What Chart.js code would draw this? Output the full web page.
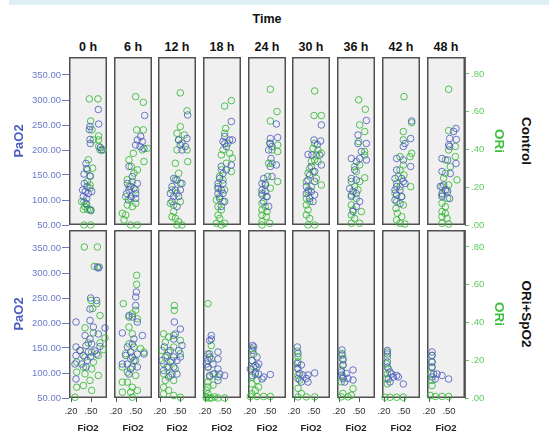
<!DOCTYPE html>
<html>
<head>
<meta charset="utf-8">
<script src="https://cdn.jsdelivr.net/npm/chart.js@4"></script>
<style>
  body { margin: 0; overflow: hidden; background: #fff; font-family: 'Liberation Sans', Arial, sans-serif; }
  #wrap { position: relative; width: 549px; height: 432px; overflow: hidden; }
  #wrap canvas { position: absolute; }
  #band { position: absolute; left: 9px; top: 0; width: 540px; height: 5px; background: #e0eef5; }
  .lbl { position: absolute; transform: translate(-50%, -50%); white-space: nowrap; font-weight: bold; color: #111; }
  .rot { transform: translate(-50%, -50%) rotate(90deg); }
</style>
</head>
<body>
<div id="wrap"><div id="band"></div></div>
<script>
const timeLabels = ['0 h', '6 h', '12 h', '18 h', '24 h', '30 h', '36 h', '42 h', '48 h'];
const groupLabels = ['Control', 'ORi+SpO2'];
const fio2Ticks = [0.2, 0.5];
const pao2Ticks = [50, 100, 150, 200, 250, 300, 350];
const oriTicks = [0, 0.2, 0.4, 0.6, 0.8];

// [FiO2, PaO2] per time point, Control
const controlPaO2 = [
  [[.61,281],[.475,241],[.485,247],[.49,213],[.485,221],[.615,252],[.66,200],[.64,205],[.395,152],[.425,173],[.435,163],[.485,148],[.4,133],[.44,127],[.375,120],[.415,117],[.46,113],[.385,107],[.435,103],[.51,117],[.425,93],[.495,80]],
  [[.63,269],[.52,220],[.57,227],[.595,217],[.495,210],[.56,207],[.62,203],[.395,167],[.445,147],[.37,133],[.42,127],[.395,120],[.47,123],[.36,113],[.43,107],[.495,113],[.52,133],[.385,100],[.495,103]],
  [[.615,270],[.605,223],[.505,210],[.53,200],[.58,207],[.48,220],[.405,143],[.455,140],[.38,127],[.43,120],[.355,113],[.405,107],[.48,107],[.505,120],[.38,97],[.455,87],[.53,133]],
  [[.595,257],[.495,227],[.57,220],[.61,220],[.495,213],[.52,207],[.47,217],[.595,170],[.445,167],[.47,153],[.42,143],[.395,133],[.47,133],[.395,123],[.445,120],[.395,113],[.47,113],[.42,103],[.495,97],[.445,87],[.52,160]],
  [[.595,252],[.505,223],[.615,225],[.505,213],[.53,207],[.48,200],[.515,183],[.595,170],[.505,167],[.405,143],[.38,133],[.43,130],[.38,120],[.43,117],[.38,110],[.455,107],[.405,97],[.48,87],[.53,147]],
  [[.61,250],[.5,220],[.6,218],[.55,211],[.41,191],[.47,190],[.585,190],[.61,170],[.46,167],[.51,157],[.435,150],[.41,140],[.385,127],[.42,120],[.385,113],[.46,117],[.51,110],[.435,103],[.485,97],[.51,137]],
  [[.61,259],[.485,230],[.61,213],[.485,213],[.535,197],[.385,183],[.51,183],[.61,180],[.46,177],[.435,160],[.385,143],[.46,140],[.36,123],[.41,117],[.46,113],[.385,107],[.51,97],[.46,87],[.41,77]],
  [[.615,258],[.49,207],[.515,213],[.6,223],[.39,183],[.49,180],[.6,167],[.39,160],[.465,143],[.365,143],[.49,137],[.39,127],[.365,120],[.44,120],[.39,110],[.465,107],[.365,100],[.44,93],[.515,133]],
  [[.605,243],[.57,237],[.51,223],[.61,221],[.495,210],[.51,207],[.605,173],[.395,183],[.48,180],[.52,153],[.395,157],[.37,127],[.42,130],[.445,120],[.395,113],[.48,117],[.51,103],[.395,107]]
];

// [FiO2, ORi] per time point, Control
const controlORi = [
  [[.475,.668],[.605,.668],[.495,.551],[.515,.504],[.615,.472],[.535,.451],[.615,.451],[.615,.416],[.635,.398],[.685,.398],[.46,.345],[.445,.292],[.525,.301],[.49,.258],[.445,.23],[.485,.195],[.395,.124],[.41,.097],[.445,.083],[.385,.083],[.435,.108],[.475,.083],[.5,.076],[.485,.212],[.36,.124],[.395,0],[.495,0]],
  [[.495,.68],[.61,.65],[.51,.504],[.61,.504],[.67,.406],[.595,.398],[.62,.336],[.46,.38],[.52,.292],[.395,.345],[.43,.31],[.47,.275],[.37,.24],[.445,.23],[.395,.204],[.495,.186],[.345,.15],[.42,.141],[.37,.106],[.445,.097],[.295,.062],[.345,.053],[.32,.027],[.42,0],[.52,0],[.495,.115]],
  [[.505,.70],[.605,.605],[.505,.521],[.455,.486],[.565,.477],[.48,.451],[.53,.433],[.455,.398],[.605,.398],[.615,.336],[.43,.327],[.48,.274],[.43,.239],[.505,.221],[.38,.186],[.455,.168],[.355,.115],[.405,.106],[.405,.071],[.38,.044],[.43,.035],[.48,.018],[.455,0],[.53,0],[.505,.124]],
  [[.595,.659],[.495,.63],[.51,.512],[.495,.486],[.545,.433],[.47,.398],[.57,.38],[.61,.354],[.445,.371],[.52,.327],[.595,.283],[.445,.292],[.42,.257],[.47,.239],[.395,.204],[.495,.186],[.42,.15],[.37,.133],[.47,.124],[.395,.097],[.445,.08],[.395,.053],[.42,.035],[.37,.009],[.495,.009],[.445,0]],
  [[.505,.719],[.605,.601],[.505,.551],[.495,.433],[.615,.424],[.53,.398],[.615,.389],[.48,.327],[.53,.327],[.465,.257],[.615,.23],[.43,.221],[.505,.195],[.38,.168],[.445,.15],[.38,.115],[.43,.097],[.38,.08],[.455,.071],[.38,.053],[.445,.044],[.38,.018],[.495,.009],[.38,0]],
  [[.51,.71],[.5,.58],[.61,.58],[.51,.432],[.485,.406],[.56,.397],[.61,.38],[.535,.371],[.51,.345],[.46,.336],[.56,.336],[.435,.3],[.485,.283],[.41,.274],[.535,.247],[.61,.212],[.385,.23],[.46,.203],[.41,.177],[.385,.141],[.435,.124],[.385,.106],[.41,.08],[.385,.053],[.435,.035],[.41,0],[.51,0]],
  [[.495,.663],[.595,.613],[.51,.53],[.585,.495],[.495,.442],[.585,.389],[.585,.371],[.51,.318],[.435,.309],[.46,.283],[.585,.25],[.51,.23],[.385,.23],[.435,.203],[.485,.186],[.385,.159],[.46,.141],[.385,.106],[.41,.08],[.535,.071],[.385,.053],[.435,.035],[.385,.009],[.51,.009]],
  [[.5,.68],[.615,.542],[.49,.495],[.49,.451],[.615,.38],[.44,.362],[.59,.362],[.49,.318],[.44,.292],[.415,.257],[.5,.265],[.39,.221],[.6,.203],[.44,.203],[.365,.168],[.465,.15],[.39,.124],[.49,.106],[.38,.088],[.4,.062],[.465,.044],[.39,.027],[.44,.009],[.515,.005]],
  [[.495,.719],[.495,.5],[.595,.416],[.495,.398],[.595,.362],[.445,.345],[.52,.309],[.445,.274],[.62,.239],[.42,.248],[.495,.212],[.395,.204],[.47,.186],[.395,.159],[.48,.141],[.395,.115],[.445,.097],[.395,.071],[.445,.062],[.395,.044],[.47,.035],[.395,.009],[.495,.005]]
];

// [FiO2, PaO2] per time point, ORi+SpO2
const spo2PaO2 = [
  [[.595,312],[.61,310],[.585,245],[.495,250],[.485,228],[.275,202],[.485,205],[.535,192],[.71,190],[.61,178],[.41,175],[.485,168],[.275,152],[.425,155],[.51,158],[.635,153],[.335,145],[.46,142],[.56,144],[.275,135],[.385,135],[.495,132],[.585,138],[.26,118],[.36,118],[.445,125],[.425,112],[.275,88]],
  [[.505,262],[.495,252],[.495,235],[.395,215],[.445,212],[.52,202],[.295,180],[.595,175],[.47,168],[.445,158],[.37,152],[.42,142],[.345,135],[.52,138],[.295,118],[.37,118],[.47,125],[.42,108],[.52,112],[.395,98],[.62,138],[.445,132]],
  [[.415,202],[.43,178],[.505,188],[.405,168],[.265,152],[.53,155],[.355,145],[.48,145],[.305,135],[.405,132],[.23,125],[.355,122],[.455,125],[.305,112],[.405,112],[.255,105],[.38,98],[.505,132],[.455,98],[.33,92]],
  [[.295,175],[.295,168],[.27,165],[.395,142],[.245,138],[.27,132],[.395,128],[.245,125],[.32,118],[.245,112],[.395,108],[.495,95],[.32,98],[.42,98],[.27,95],[.395,85],[.22,118]],
  [[.24,155],[.255,152],[.24,145],[.305,132],[.23,125],[.33,118],[.28,115],[.205,108],[.28,98],[.33,98],[.405,92],[.505,97],[.23,95],[.38,88],[.305,112]],
  [[.25,152],[.26,139],[.31,116],[.25,119],[.285,99],[.335,96],[.41,96],[.51,100],[.385,89],[.41,82],[.26,89],[.31,82],[.26,109]],
  [[.245,146],[.245,136],[.26,126],[.26,116],[.41,106],[.31,99],[.24,96],[.26,89],[.335,89],[.41,86],[.285,82],[.235,102]],
  [[.25,145],[.25,138],[.25,122],[.25,112],[.29,102],[.315,98],[.39,95],[.34,92],[.265,88],[.49,78],[.415,92],[.29,82]],
  [[.245,142],[.245,135],[.245,122],[.245,112],[.27,98],[.32,98],[.395,95],[.495,88],[.295,88],[.245,92]]
];

// [FiO2, ORi] per time point, ORi+SpO2
const spo2ORi = [
  [[.4,.8],[.595,.8],[.55,.697],[.625,.693],[.5,.517],[.585,.5],[.525,.474],[.635,.437],[.41,.372],[.535,.345],[.71,.318],[.635,.292],[.685,.257],[.46,.292],[.335,.252],[.51,.243],[.41,.217],[.61,.225],[.285,.19],[.535,.19],[.385,.163],[.51,.154],[.285,.137],[.41,.128],[.61,.119],[.485,.093],[.385,.066],[.285,.057],[.26,.004],[.51,.04]],
  [[.51,.65],[.51,.602],[.31,.5],[.495,.465],[.445,.446],[.395,.429],[.52,.42],[.395,.376],[.445,.34],[.395,.287],[.47,.27],[.57,.261],[.62,.243],[.345,.235],[.42,.208],[.495,.199],[.295,.164],[.445,.164],[.37,.137],[.495,.119],[.295,.084],[.37,.084],[.445,.057],[.295,.031],[.42,.031],[.52,.04],[.445,.004]],
  [[.415,.49],[.415,.464],[.255,.34],[.33,.323],[.405,.332],[.28,.296],[.505,.305],[.405,.27],[.23,.252],[.33,.243],[.505,.235],[.28,.217],[.38,.199],[.255,.181],[.33,.164],[.43,.155],[.255,.128],[.355,.119],[.28,.093],[.405,.093],[.255,.057],[.33,.04],[.255,.022],[.405,.013],[.505,.004]],
  [[.245,.5],[.295,.278],[.27,.234],[.295,.207],[.395,.112],[.245,.163],[.27,.112],[.245,.085],[.32,.068],[.22,.041],[.245,.023],[.22,.006],[.27,0],[.345,.006],[.22,0],[.295,0],[.395,0],[.495,0],[.245,.058],[.345,.129]],
  [[.23,.26],[.255,.233],[.23,.198],[.255,.163],[.28,.136],[.23,.11],[.305,.093],[.23,.075],[.33,.058],[.23,.022],[.205,.008],[.305,.008],[.405,.008],[.505,.008],[.28,.04]],
  [[.25,.248],[.26,.218],[.26,.192],[.25,.157],[.26,.121],[.285,.095],[.26,.051],[.31,.024],[.26,.006],[.385,.006],[.51,.006]],
  [[.245,.236],[.26,.209],[.26,.174],[.235,.148],[.26,.112],[.235,.086],[.41,.05],[.26,.024],[.235,.006],[.335,.006],[.385,.015]],
  [[.25,.243],[.25,.217],[.24,.181],[.265,.155],[.25,.128],[.24,.102],[.25,.075],[.215,.004],[.29,.004],[.39,.004],[.49,.004]],
  [[.245,.226],[.245,.19],[.245,.163],[.23,.128],[.245,.093],[.245,.066],[.22,.013],[.295,.008],[.395,.008],[.495,.008]]
];

const groupData = [[controlPaO2, controlORi], [spo2PaO2, spo2ORi]];

// layout
const panelLefts = [69, 114, 158, 203, 248, 292, 337, 382, 427];
const rowTops = [57, 230];
const PANEL_W = 38, PANEL_H = 168;
const BLUE = 'rgba(72, 88, 190, 0.8)', GREEN = 'rgba(52, 185, 52, 0.85)';

Chart.defaults.font.family = "'Liberation Sans', Arial, sans-serif";

const panelBox = {
    id: 'panelBox',
    beforeDatasetsDraw(chart) {
        const { ctx, chartArea: a } = chart;
        ctx.save();
        ctx.fillStyle = '#f0f0f0';
        ctx.fillRect(a.left, a.top, a.right - a.left, a.bottom - a.top);
        ctx.strokeStyle = '#505050';
        ctx.lineWidth = 1.5;
        ctx.strokeRect(a.left + 0.75, a.top + 0.75, a.right - a.left - 1.5, a.bottom - a.top - 1.5);
        ctx.restore();
    }
};

const dotFmt = v => v.toFixed(2).replace(/^0/, '');
const wrap = document.getElementById('wrap');

// fixed axis box, no label overflow padding so every panel keeps the same plot area
const fixBox = (w, h) => s => {
    if (w !== null) s.width = w;
    if (h !== null) s.height = h;
    s.paddingTop = s.paddingBottom = s.paddingLeft = s.paddingRight = 0;
};

function addLabel(text, x, y, style, rotate) {
    const d = document.createElement('div');
    d.className = rotate ? 'lbl rot' : 'lbl';
    d.textContent = text;
    d.style.left = x + 'px';
    d.style.top = y + 'px';
    Object.assign(d.style, style);
    wrap.appendChild(d);
}

function makePanel(row, col) {
    const first = col === 0, last = col === timeLabels.length - 1, bottom = row === 1;
    const leftW = first ? 69 : 0, rightW = last ? 84 : 0, axisH = bottom ? 36 : 0;
    // spare room round the panel so edge markers and tick labels are not cut
    const pad = { left: first ? 0 : 8, right: last ? 0 : 8, top: 5, bottom: bottom ? 0 : 6 };
    const w = pad.left + leftW + PANEL_W + rightW + pad.right;
    const h = pad.top + PANEL_H + axisH + pad.bottom;
    const canvas = document.createElement('canvas');
    canvas.width = w; canvas.height = h;
    canvas.style.width = w + 'px'; canvas.style.height = h + 'px';
    canvas.style.left = (panelLefts[col] - leftW - pad.left) + 'px';
    canvas.style.top = (rowTops[row] - pad.top) + 'px';
    wrap.appendChild(canvas);

    const [paSet, oriSet] = groupData[row];
    const pointStyle = { backgroundColor: 'transparent', pointRadius: 3.3, pointBorderWidth: 1, showLine: false, clip: false };

    return new Chart(canvas, {
        type: 'scatter',
        data: {
            datasets: [
                { ...pointStyle, data: paSet[col].map(([x, y]) => ({ x, y })), yAxisID: 'pao2', borderColor: BLUE, pointBorderColor: BLUE },
                { ...pointStyle, data: oriSet[col].map(([x, y]) => ({ x, y })), yAxisID: 'ori', borderColor: GREEN, pointBorderColor: GREEN }
            ]
        },
        options: {
            responsive: false, animation: false, events: [],
            layout: { padding: pad, autoPadding: false },
            plugins: { legend: { display: false }, tooltip: { enabled: false } },
            scales: {
                x: {
                    type: 'linear', min: 0.17, max: 0.74, display: bottom,
                    afterBuildTicks: ax => { ax.ticks = fio2Ticks.map(v => ({ value: v })); },
                    afterFit: fixBox(null, axisH),
                    ticks: { callback: dotFmt, color: '#333', font: { size: 9.5 }, padding: 4, maxRotation: 0, autoSkip: false },
                    grid: { drawOnChartArea: false, tickLength: 4, color: '#555' },
                    border: { display: false },
                    title: { display: true, text: 'FiO2', color: '#222', font: { size: 9.5, weight: 'bold' }, padding: { top: 0, bottom: 0 } }
                },
                pao2: {
                    type: 'linear', position: 'left', min: 50, max: 386, display: first,
                    afterBuildTicks: ax => { ax.ticks = pao2Ticks.map(v => ({ value: v })); },
                    afterFit: fixBox(leftW, null),
                    ticks: { callback: v => v.toFixed(2), color: '#6a7bc9', font: { size: 9.5 }, padding: 1, autoSkip: false },
                    grid: { drawOnChartArea: false, tickLength: 7, color: '#6a7bc9' },
                    border: { display: false },
                    title: { display: true, text: 'PaO2', color: '#4b5dbf', font: { size: 13, weight: 'bold' }, padding: { top: 12 } }
                },
                ori: {
                    type: 'linear', position: 'right', min: 0, max: 0.89, display: last,
                    afterBuildTicks: ax => { ax.ticks = oriTicks.map(v => ({ value: v })); },
                    afterFit: fixBox(rightW, null),
                    ticks: { callback: dotFmt, color: '#5dcb5d', font: { size: 9.5 }, padding: 2, autoSkip: false },
                    grid: { drawOnChartArea: false, tickLength: 4, color: '#5dcb5d' },
                    border: { display: true, color: '#666' },
                    title: { display: true, text: 'ORi', color: '#3dbf3d', font: { size: 13.5, weight: 'bold' }, padding: { top: 42 } }
                }
            }
        },
        plugins: [panelBox]
    });
}

addLabel('Time', 267, 19, { fontSize: '12.5px' });
timeLabels.forEach((t, c) => addLabel(t, panelLefts[c] + PANEL_W / 2, 47, { fontSize: '12.5px' }));
groupLabels.forEach((g, r) => addLabel(g, 526, rowTops[r] + PANEL_H / 2, { fontSize: '13.5px' }, true));

for (let r = 0; r < groupLabels.length; r++) {
    for (let c = 0; c < timeLabels.length; c++) makePanel(r, c);
}
</script>
</body>
</html>
